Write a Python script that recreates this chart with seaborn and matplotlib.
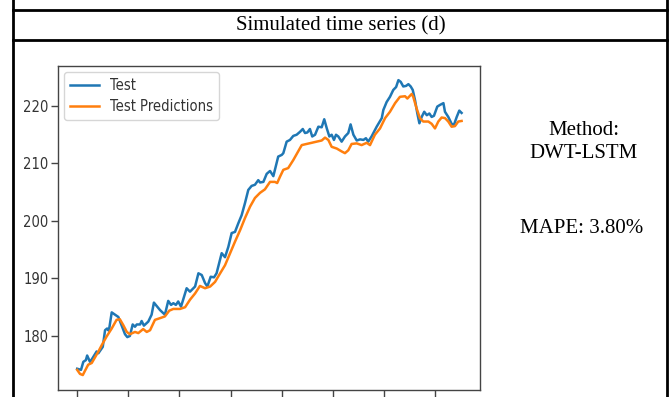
import matplotlib
matplotlib.use("Agg")
import matplotlib.pyplot as plt
from matplotlib.lines import Line2D
import seaborn as sns
import pandas as pd

# ---- data ----
test_x = [0, 1.5, 2.4, 3.4, 3.9, 5.0, 5.8, 7.6, 8.3, 10.0, 10.9, 11.7, 12.4, 13.5, 14.8, 16.1,
          18.7, 19.6, 20.6, 21.7, 22.6, 23.3, 24.6, 25.2, 26.1, 27.8, 29.1, 30.0, 32.4, 34.3,
          35.6, 36.7, 37.6, 38.6, 39.5, 40.6, 42.8, 44.1, 46.1, 47.4, 48.7, 50.0, 50.9, 52.2,
          53.5, 54.5, 56.5, 57.8, 59.1, 60.4, 61.7, 63.0, 64.3, 65.6, 66.9, 68.2, 69.5, 70.8,
          71.5, 72.8, 74.1, 75.4, 76.7, 78.6, 80.0, 80.6, 81.9, 83.2, 84.5, 85.8, 87.1, 88.2,
          89.1, 90.0, 91.0, 91.9, 93.0, 94.3, 95.6, 96.6, 97.6, 98.6, 99.5, 100.4, 101.2, 102.1,
          103.4, 104.7, 106.0, 106.9, 108.0, 109.3, 110.6, 111.9, 112.9, 113.8, 115.1, 117.1,
          119.1, 119.7, 121.0, 122.3, 123.6, 124.7, 125.6, 126.5, 127.5, 128.6, 129.5, 130.4,
          131.2, 132.1, 133.0, 133.8, 134.7, 135.7, 136.7, 137.7, 138.6, 139.5, 140.8, 141.9,
          143.2, 143.8, 145.1, 146.4, 147.3, 148.4, 149.4, 150.3]
test_y = [174.3, 174.1, 175.5, 175.8, 176.6, 175.5, 176.0, 177.3, 177.0, 178.1, 181.0, 181.3, 180.9,
          184.1, 183.7, 183.3, 180.3, 179.8, 180.0, 182.0, 181.6, 182.0, 182.0, 182.6, 181.8,
          182.5, 183.7, 185.8, 184.5, 183.7, 186.1, 185.4, 185.7, 185.4, 186.0, 185.1, 188.3,
          187.7, 188.6, 190.9, 190.6, 189.2, 188.6, 190.3, 190.2, 190.9, 194.4, 193.7, 195.5,
          197.9, 198.1, 199.6, 201.0, 203.1, 205.4, 206.1, 206.3, 207.1, 206.7, 206.8, 208.2,
          208.7, 207.8, 211.2, 211.5, 211.8, 213.8, 214.1, 214.8, 215.0, 215.5, 216.0, 215.3,
          215.4, 216.0, 214.7, 215.0, 216.4, 216.3, 217.7, 216.1, 214.7, 215.0, 214.1, 215.0,
          214.7, 213.8, 214.7, 215.3, 216.8, 215.0, 214.0, 214.2, 214.1, 214.4, 213.8, 214.7,
          216.4, 217.9, 219.3, 220.7, 221.6, 222.8, 223.3, 224.5, 224.2, 223.4, 223.5, 223.8,
          223.4, 222.8, 221.0, 218.7, 217.0, 218.1, 219.0, 218.4, 218.7, 218.1, 218.3, 219.9,
          220.2, 220.5, 219.0, 218.1, 216.9, 216.7, 218.1, 219.2, 218.8]

pred_x = [0, 1.1, 2.2, 3.0, 4.3, 5.7, 7.0, 8.3, 9.6, 11.5, 13.5, 15.4, 16.7, 18.0, 19.4, 20.6,
          22.6, 23.9, 25.8, 27.2, 28.5, 30.4, 32.4, 34.3, 36.0, 37.6, 40.2, 42.2, 44.1, 46.1,
          48.0, 50.0, 52.0, 53.9, 55.9, 57.8, 59.8, 61.7, 63.7, 65.6, 67.6, 69.5, 71.5, 73.4,
          75.4, 77.3, 78.2, 79.3, 80.6, 82.5, 84.5, 86.4, 87.8, 89.7, 91.7, 93.6, 95.6, 96.9,
          98.2, 99.5, 101.5, 103.4, 104.7, 106.0, 107.3, 109.3, 111.2, 113.2, 114.5, 116.4,
          118.4, 120.4, 122.3, 124.3, 126.2, 128.2, 129.1, 130.8, 131.4, 132.7, 134.0, 135.3,
          137.3, 138.6, 139.9, 141.2, 142.5, 143.8, 145.1, 146.4, 147.7, 149.0, 150.3]
pred_y = [174.1, 173.4, 173.2, 173.9, 175.0, 175.3, 176.3, 177.3, 178.4, 179.9, 181.3, 182.8, 182.9,
          181.9, 180.7, 180.3, 180.7, 180.5, 181.2, 180.7, 181.0, 182.8, 183.1, 183.4, 184.4,
          184.7, 184.7, 185.0, 186.3, 187.4, 188.7, 188.3, 188.6, 189.4, 190.9, 192.3, 194.4,
          196.4, 198.4, 200.5, 202.5, 204.0, 204.9, 205.5, 206.8, 206.8, 206.6, 207.7, 208.9,
          209.2, 210.6, 212.1, 213.2, 213.4, 213.6, 213.8, 214.0, 214.5, 214.1, 212.9, 212.6,
          212.1, 211.8, 212.3, 213.4, 213.5, 213.2, 213.6, 213.2, 215.0, 216.1, 217.9, 219.0,
          220.5, 221.6, 221.7, 221.3, 222.1, 221.6, 219.6, 217.9, 217.3, 217.3, 216.9, 216.1,
          217.3, 218.0, 217.9, 217.3, 216.4, 216.5, 217.3, 217.4]

y_ticks = [180, 190, 200, 210, 220]
x_ticks = [0, 20, 40, 60, 80, 100, 120, 140]

header_text = "Simulated time series (d)"
method_text = "Method:\nDWT-LSTM"
mape_text = "MAPE: 3.80%"

# ---- figure ----
W, H = 672, 397
fig = plt.figure(figsize=(W / 100, H / 100), dpi=100)
fig.patch.set_facecolor("white")

def fx(px):
    return px / W

def fy(py):
    return 1 - py / H

# table borders
lw_tab = 2.0
for x in (13, 667):
    fig.add_artist(Line2D([fx(x), fx(x)], [0, 1], color="black", lw=lw_tab, transform=fig.transFigure))
for y in (10, 40):
    fig.add_artist(Line2D([fx(13), fx(667)], [fy(y), fy(y)], color="black", lw=lw_tab, transform=fig.transFigure))

serif = ["Liberation Serif", "DejaVu Serif"]
fig.text(fx(341), fy(26), header_text, ha="center", va="center", fontsize=15, family=serif)
fig.text(fx(584), fy(142), method_text, ha="center", va="center", fontsize=15, family=serif,
         linespacing=1.25)
fig.text(fx(582), fy(229), mape_text, ha="center", va="center", fontsize=15, family=serif)

# plot axes
ax = fig.add_axes([fx(58), fy(390), fx(480) - fx(58), (390 - 66) / H])
df_test = pd.DataFrame({"x": test_x, "y": test_y})
df_pred = pd.DataFrame({"x": pred_x, "y": pred_y})
sns.lineplot(data=df_test, x="x", y="y", ax=ax, color="#1f77b4", lw=1.8, label="Test")
sns.lineplot(data=df_pred, x="x", y="y", ax=ax, color="#ff7f0e", lw=1.8, label="Test Predictions")

ax.set_xlim(-7.5, 157.5)
ax.set_ylim(170.6, 226.96)
ax.set_xticks(x_ticks)
ax.set_xticklabels([])
ax.set_yticks(y_ticks)
ax.set_yticklabels([str(v) for v in y_ticks])
ax.set_xlabel("")
ax.set_ylabel("")
for s in ax.spines.values():
    s.set_color("#444444")
    s.set_linewidth(1.0)
ax.tick_params(axis="both", length=5, width=1, color="#444444", labelcolor="#333333",
               labelsize=10.5, pad=2)
for t in ax.get_yticklabels():
    t.set_fontstretch("condensed")

leg = ax.legend(loc="upper left", fontsize=10.5, frameon=True, handlelength=2.0,
                borderaxespad=0.4, labelspacing=0.45)
leg.get_frame().set_edgecolor("#cccccc")
for t in leg.get_texts():
    t.set_fontstretch("condensed")
    t.set_color("#333333")

fig.savefig("out.png", dpi=100, facecolor="white")
